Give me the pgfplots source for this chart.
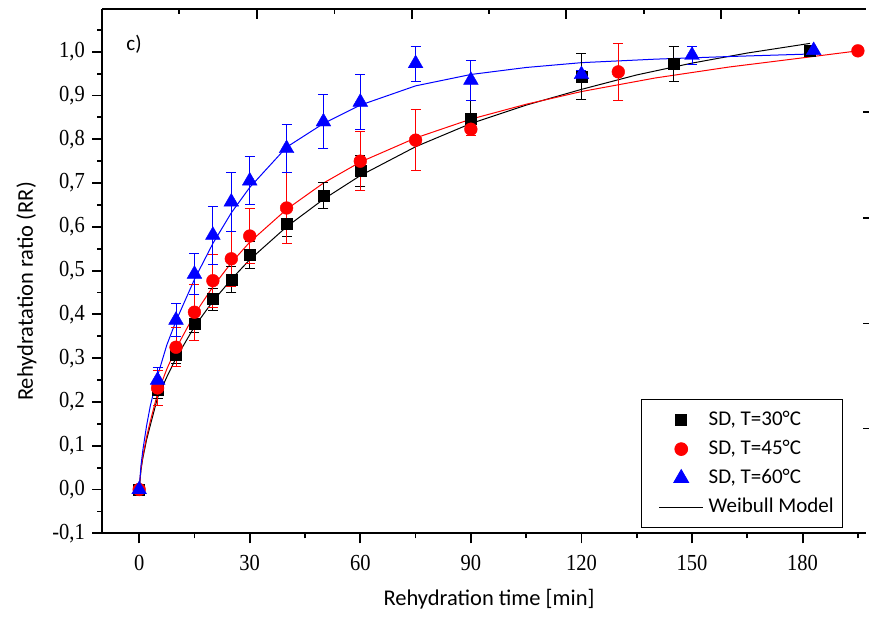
\documentclass[border=0pt]{standalone}
\usepackage{fontspec}
\setmainfont{Carlito}
\newfontfamily\tnr{Liberation Serif}
\usepackage{graphicx}
\usepackage{pgfplots}
\usepackage{pgfplotstable}
\pgfplotsset{compat=1.18}
\usetikzlibrary{calc}
\newcommand\tl[1]{\scalebox{1}[1.12]{\tnr\fontsize{20.5}{24}\selectfont #1}}

\pgfplotstableread{
t v e
0 0 0
5 0.228 0.02
10 0.308 0.02
15 0.378 0.02
20 0.435 0.025
25 0.480 0.03
30 0.536 0.03
40 0.607 0.03
50 0.672 0.03
60 0.728 0.035
90 0.848 0.04
120 0.943 0.052
145 0.973 0.04
182 1.003 0
}\tblA
\pgfplotstableread{
t v e
0 0 0
5 0.232 0.04
10 0.325 0.045
15 0.405 0.064
20 0.477 0.06
25 0.527 0.063
30 0.579 0.063
40 0.643 0.082
60 0.750 0.068
75 0.798 0.07
90 0.823 0.015
130 0.954 0.065
195 1.002 0
}\tblB
\pgfplotstableread{
t v e
0 0 0
5 0.25 0.029
10 0.387 0.038
15 0.492 0.047
20 0.581 0.066
25 0.657 0.068
30 0.705 0.055
40 0.779 0.054
50 0.840 0.062
60 0.885 0.062
75 0.973 0.04
90 0.935 0.046
120 0.948 0.01
150 0.992 0.02
183 1.003 0
}\tblC
\pgfplotstableread{
t v
0 0
0.5 0.045
1 0.072
2 0.113
3 0.146
5 0.21
7.5 0.257
10 0.30
15 0.372
20 0.43
25 0.48
30 0.525
40 0.60
50 0.663
60 0.717
75 0.783
90 0.836
105 0.878
120 0.914
135 0.947
150 0.974
165 0.997
182 1.019
}\fitA
\pgfplotstableread{
t v
0 0
0.5 0.048
1 0.076
2 0.12
3 0.155
5 0.22
7.5 0.275
10 0.322
15 0.40
20 0.463
25 0.518
30 0.565
40 0.64
50 0.70
60 0.748
75 0.803
90 0.846
105 0.88
120 0.909
140 0.94
160 0.965
180 0.986
195 1.002
}\fitB
\pgfplotstableread{
t v
0 0
0.5 0.055
1 0.09
2 0.145
3 0.19
5 0.26
7.5 0.33
10 0.385
15 0.48
20 0.562
25 0.632
30 0.69
40 0.782
50 0.836
60 0.878
75 0.922
90 0.948
105 0.964
120 0.975
140 0.983
160 0.989
183 0.995
}\fitC

\begin{document}
\begin{tikzpicture}
\pgfplotsset{
  common/.style={
    scale only axis, width=763.7pt, height=524.3pt,
    xmin=-10, xmax=197.2, ymin=-0.1, ymax=1.0976,
    axis line style={line width=1.8pt},
    tick style={line width=1.8pt, black},
  },
  legimg/.style={legend image code/.code={\path (0pt,0pt); \draw[mark repeat=2,mark phase=2] plot coordinates {(13pt,0pt)(35pt,0pt)(57pt,0pt)};}},
}
\begin{axis}[common, name=main,
  axis x line*=bottom, axis y line*=left,
  tick align=outside,
  major tick length=10pt, minor tick length=5pt,
  xtick={0,30,60,90,120,150,180},
  xticklabels={\tl{0},\tl{30},\tl{60},\tl{90},\tl{120},\tl{150},\tl{180}},
  minor xtick={15,45,75,105,135,165,195},
  ytick={-0.1,0,0.1,0.2,0.3,0.4,0.5,0.6,0.7,0.8,0.9,1.0},
  yticklabels={\tl{-0,1},\tl{0,0},\tl{0,1},\tl{0,2},\tl{0,3},\tl{0,4},\tl{0,5},\tl{0,6},\tl{0,7},\tl{0,8},\tl{0,9},\tl{1,0}},
  minor ytick={-0.05,0.05,0.15,0.25,0.35,0.45,0.55,0.65,0.75,0.85,0.95,1.05},
  xticklabel style={yshift=-8pt},
  yticklabel style={xshift=-4pt},
  legend style={at={(axis description cs:0.970,0.0101)}, anchor=south east,
    draw=black, line width=0.8pt, inner xsep=4pt, inner ysep=6pt,
    font=\fontsize{21}{25}\selectfont,
    nodes={text height=15pt, text depth=5pt, inner ysep=4.5pt, inner xsep=5pt},
    row sep=0pt},
  legend cell align=left,
]
\addplot[black, line width=1pt, forget plot] table[x=t, y=v] {\fitA};
\addplot[red, line width=1pt, forget plot] table[x=t, y=v] {\fitB};
\addplot[blue, line width=1pt, forget plot] table[x=t, y=v] {\fitC};

\addplot[only marks, mark=square*, mark size=5.5pt, black, legimg,
  error bars/.cd, y dir=both, y explicit,
  error bar style={line width=0.9pt, black},
  error mark options={rotate=90, line width=0.9pt, mark size=5pt, black}]
  table[x=t, y=v, y error=e] {\tblA};
\addlegendentry{SD, T=30°C}
\addplot[only marks, mark=*, mark size=6.4pt, red, legimg,
  error bars/.cd, y dir=both, y explicit,
  error bar style={line width=0.9pt, red},
  error mark options={rotate=90, line width=0.9pt, mark size=5pt, red}]
  table[x=t, y=v, y error=e] {\tblB};
\addlegendentry{SD, T=45°C}
\addplot[only marks, mark=triangle*, mark size=8.5pt, blue, legimg,
  error bars/.cd, y dir=both, y explicit,
  error bar style={line width=0.9pt, blue},
  error mark options={rotate=90, line width=0.9pt, mark size=5pt, blue}]
  table[x=t, y=v, y error=e] {\tblC};
\addlegendentry{SD, T=60°C}
\addlegendimage{black, line width=1pt, legend image code/.code={\path (0pt,0pt); \draw (13pt,0pt) -- (57pt,0pt);}}
\addlegendentry{Weibull Model}

\node[font=\fontsize{21}{25}\selectfont, anchor=center] at (axis cs:-1.4,1.018) {c)};
\end{axis}

\begin{axis}[common,
  axis x line*=top, axis y line=none,
  tick align=inside,
  major tick length=10pt, minor tick length=5.5pt,
  xtick={31.96,74.05,115.9,157.96}, xticklabels={},
  minor xtick={10.9,53.0,94.9,136.9,179.0},
]
\end{axis}

\begin{axis}[common,
  axis x line=none, axis y line*=right,
  y axis line style={draw=none},
  tick align=center,
  major tick length=6pt,
  ytick={0.1394,0.3793,0.6207,0.8615}, yticklabels={},
  minor ytick={},
]
\end{axis}

\node[rotate=90, anchor=base, font=\fontsize{22.5}{27}\selectfont, inner sep=0pt]
  at ($(main.south west)+(-69.3pt,241.8pt)$) {Rehydratation ratio (RR)};
\node[anchor=base, font=\fontsize{22.5}{27}\selectfont, inner sep=0pt]
  at ($(main.south west)+(386.7pt,-72.7pt)$) {Rehydration time [min]};

\pgfresetboundingbox
\path[use as bounding box] ($(main.south west)+(-102.3pt,-83.7pt)$) rectangle ($(main.north east)+(3pt,9pt)$);
\end{tikzpicture}
\end{document}
